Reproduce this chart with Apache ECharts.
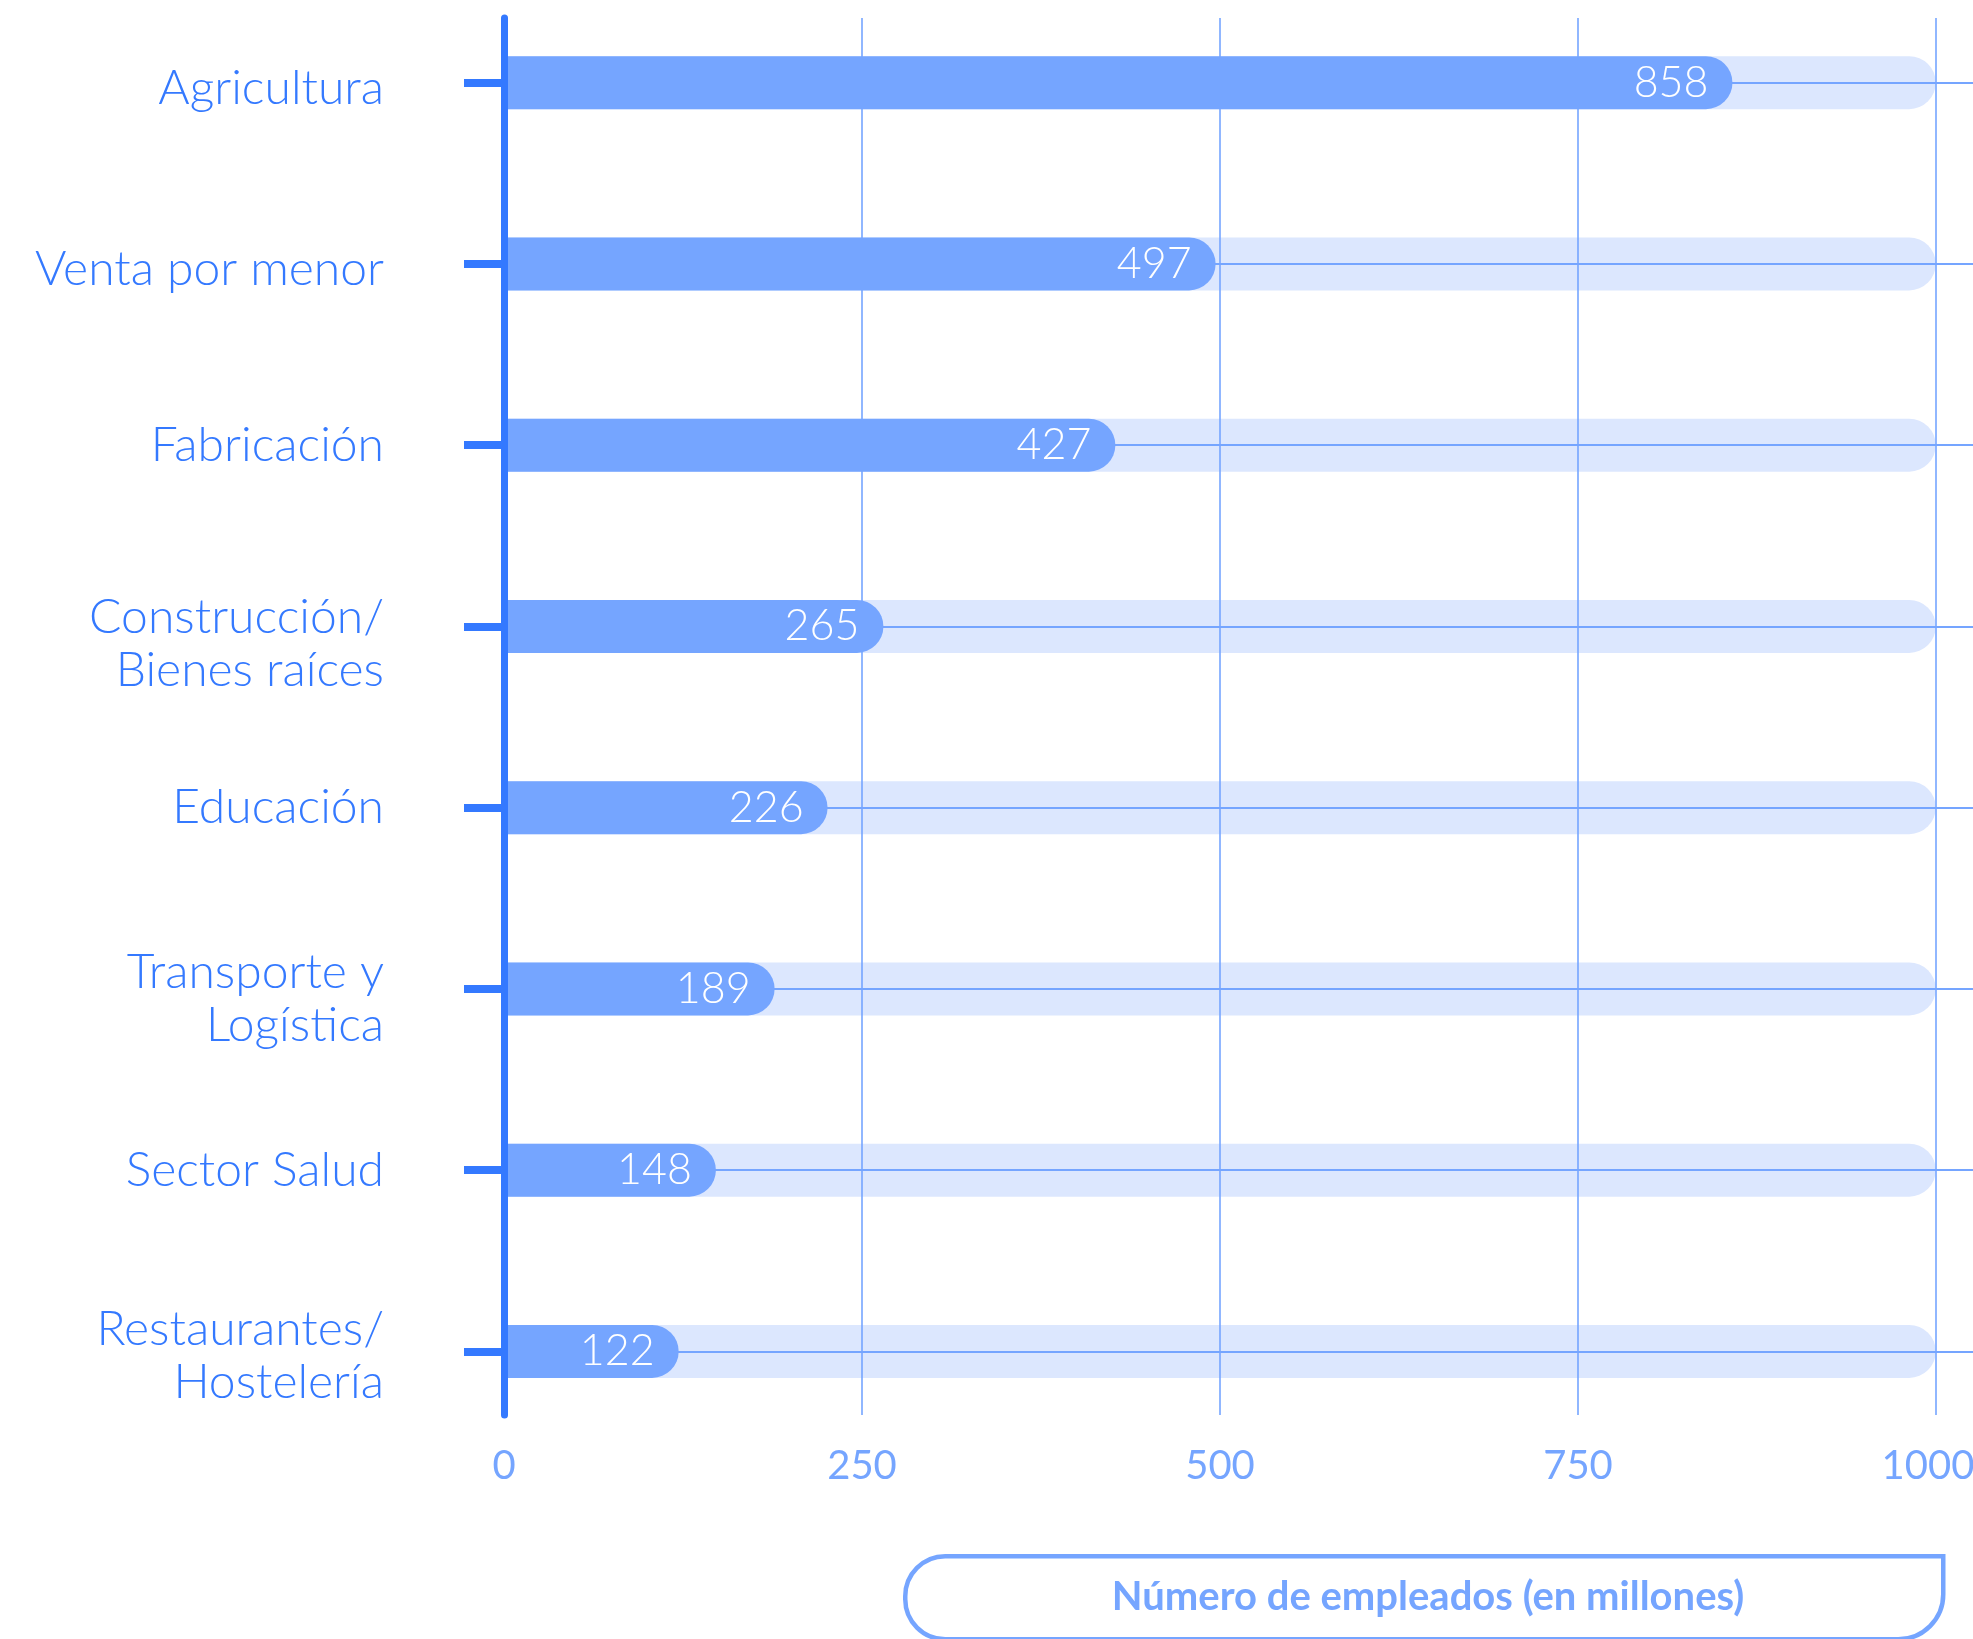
<!DOCTYPE html>
<html>
<head>
<meta charset="utf-8">
<script src="https://cdn.jsdelivr.net/npm/echarts@6/dist/echarts.min.js"></script>
<style>
html,body{margin:0;padding:0;background:#fff;}
#chart{width:1973px;height:1639px;}
</style>
</head>
<body>
<div id="chart"></div>
<script>
const categories = ['Agricultura', 'Venta por menor', 'Fabricación', 'Construcción/\nBienes raíces', 'Educación', 'Transporte y\nLogística', 'Sector Salud', 'Restaurantes/\nHostelería'];
const employees = [858, 497, 427, 265, 226, 189, 148, 122];
const trackValues = [1000, 1000, 1000, 1000, 1000, 1000, 1000, 1000];
const xTicks = [0, 250, 500, 750, 1000];
const axisTitle = 'Número de empleados (en millones)';

// label layout tweak: some labels sit slightly below their tick (spacer height in px)
const labelSpacer = {'Agricultura': 12, 'Venta por menor': 12, 'Construcción/\nBienes raíces': 35, 'Transporte y\nLogística': 20, 'Restaurantes/\nHostelería': 10};

const FONT = 'Lato';
const labelBase = {color: '#3479ff', fontFamily: FONT, fontWeight: 300, fontSize: 48, lineHeight: 53};
const rich = {n: Object.assign({}, labelBase)};
Object.values(labelSpacer).forEach(s => { rich['s' + s] = {fontSize: 1, lineHeight: s}; });

const xLabelBase = {color: '#75a5ff', fontFamily: FONT, fontSize: 40};

const chart = echarts.init(document.getElementById('chart'), null, {renderer: 'canvas'});
chart.setOption({
  animation: false,
  backgroundColor: '#ffffff',
  grid: [
    {left: 504, right: 37, top: 18, bottom: 224, outerBoundsMode: 'none', containLabel: false},
    {left: 504, right: 0, top: -8, height: 1450, outerBoundsMode: 'none', containLabel: false}
  ],
  xAxis: [
    {
      gridIndex: 0, type: 'value', min: 0, max: 1000, interval: 250, z: 1,
      axisLine: {show: false}, axisTick: {show: false},
      splitLine: {show: true, lineStyle: {color: '#75a5ff', width: 1.6}},
      axisLabel: Object.assign({}, xLabelBase, {
        margin: 31,
        rich: {last: Object.assign({}, xLabelBase, {padding: [0, 16, 0, 0]})},
        formatter: v => {
          if (xTicks.indexOf(v) < 0) return '';
          return v === xTicks[xTicks.length - 1] ? '{last|' + v + '}' : String(v);
        }
      })
    },
    {
      gridIndex: 1, type: 'value', min: 0, max: 1026, show: false
    }
  ],
  yAxis: [
    {
      gridIndex: 0, type: 'value', min: 0, max: 1, z: 5,
      axisLine: {show: true, lineStyle: {color: '#3479ff', width: 7}},
      axisTick: {show: false}, axisLabel: {show: false}, splitLine: {show: false}
    },
    {
      gridIndex: 1, type: 'category', inverse: true, z: 5, data: categories,
      axisLine: {show: false},
      axisTick: {show: true, alignWithLabel: true, length: 40, lineStyle: {color: '#3479ff', width: 8}},
      axisLabel: Object.assign({}, labelBase, {
        margin: 120, align: 'right', rich: rich,
        formatter: v => {
          const body = v.split('\n').map(l => '{n|' + l + '}').join('\n');
          const s = labelSpacer[v];
          return s ? '{s' + s + '| }\n' + body : body;
        }
      }),
      splitLine: {show: false}
    }
  ],
  series: [
    {
      type: 'bar', xAxisIndex: 1, yAxisIndex: 1, data: trackValues, z: 0,
      barWidth: 53, barGap: '-100%', silent: true,
      itemStyle: {color: '#dce7fe', borderRadius: [0, 27, 27, 0]},
      markLine: {
        silent: true, symbol: 'none', z: 2,
        label: {show: false},
        lineStyle: {color: '#75a5ff', width: 2, type: 'solid'},
        data: categories.map(c => ({yAxis: c}))
      }
    },
    {
      type: 'bar', xAxisIndex: 1, yAxisIndex: 1, data: employees, z: 3,
      barWidth: 53, barGap: '-100%',
      itemStyle: {color: '#75a5ff', borderRadius: [0, 27, 27, 0]},
      label: {
        show: true, position: 'insideRight', distance: 24,
        color: '#ffffff', fontFamily: FONT, fontWeight: 300, fontSize: 43
      }
    }
  ],
  graphic: [
    {
      type: 'rect', left: 903, top: 1554, z: 10,
      shape: {width: 1038, height: 83, r: [40, 0, 45, 40]},
      style: {fill: '#ffffff', stroke: '#75a5ff', lineWidth: 4.5}
    },
    {
      type: 'text', z: 11, x: 1428, y: 1597,
      style: {
        text: axisTitle, fill: '#75a5ff', font: 'bold 40px ' + FONT,
        textAlign: 'center', textVerticalAlign: 'middle'
      }
    }
  ]
});
</script>
</body>
</html>
